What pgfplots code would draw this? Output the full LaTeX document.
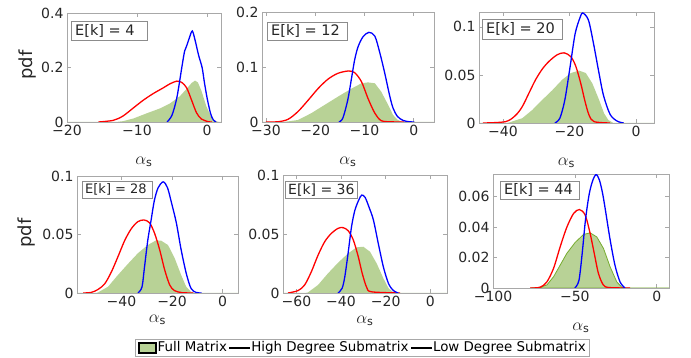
\documentclass[border=0pt]{standalone}
\usepackage{fontspec}
\setmainfont{DejaVu Sans}
\usepackage{pgfplots}
\pgfplotsset{compat=1.18}

\definecolor{axisgray}{HTML}{A8A8A8}
\definecolor{boxgray}{HTML}{8C8C8C}
\definecolor{txtgray}{HTML}{262626}
\definecolor{fillgreen}{HTML}{B8D296}
\definecolor{edgegreen}{HTML}{77AC30}

\tikzset{
  ekbox/.style={draw=boxgray, fill=white, anchor=north west, inner xsep=4pt,
    inner ysep=0pt, text=txtgray, font=\fontsize{14.5}{15}\selectfont},
}

\pgfplotsset{
  panel/.style={
    scale only axis,
    scaled ticks=false,
    axis line style={axisgray, line width=0.6pt},
    tick style={axisgray, line width=0.6pt},
    major tick length=4pt,
    tick align=inside,
    ticklabel style={font=\fontsize{14}{14}\selectfont, text=txtgray},
    ymin=0,
    xlabel={$\alpha_{\mathrm{s}}$},
    xlabel style={at={(axis description cs:0.5,0)}, anchor=center,
                  font=\fontsize{16}{16}\selectfont, text=txtgray},
  },
  full/.style={fill=fillgreen, draw=none},
  high/.style={color=red, line width=1.3pt, smooth, tension=0.5},
  low/.style={color=blue, line width=1.3pt, smooth, tension=0.5},
}

\begin{document}
\begin{tikzpicture}[x=1pt, y=1pt]
\useasboundingbox (0pt,0pt) rectangle (691pt,358pt);

% ---------- E[k] = 4 ----------
\begin{axis}[panel, at={(67pt,236pt)}, anchor=south west, width=154pt, height=109pt,
  xmin=-20, xmax=2, ymax=0.4,
  xtick={-20,-10,0}, xticklabels={−20,−10,0},
  ytick={0,0.2,0.4}, yticklabels={0,0.2,0.4},
  xlabel style={yshift=-40pt}]
\addplot[full] coordinates {(-20,0) (-13,0) (-12,0.003) (-10.5,0.013) (-8.6,0.032) (-6.7,0.05) (-5.3,0.068) (-3.9,0.094) (-2.9,0.122) (-2.2,0.143) (-1.7,0.152) (-1.3,0.145) (-0.8,0.115) (-0.1,0.058) (0.6,0.019) (1.1,0.005) (1.6,0.001) (2,0)} \closedcycle;
\addplot[high] coordinates {(-15.5,0) (-13.4,0.006) (-12,0.022) (-10.5,0.052) (-9.1,0.08) (-7.7,0.104) (-6.2,0.126) (-5.3,0.14) (-4.3,0.15) (-3.6,0.145) (-2.9,0.125) (-2.2,0.08) (-1.5,0.034) (-0.8,0.011) (0.2,0.001) (0.7,0)};
\addplot[low] coordinates {(-5.7,0) (-5,0.025) (-4.3,0.09) (-3.6,0.2) (-3.2,0.26) (-2.9,0.28) (-2.5,0.31) (-2.1,0.334) (-1.7,0.3) (-1.2,0.245) (-0.7,0.2) (-0.4,0.15) (0,0.09) (0.5,0.032) (0.9,0.008) (1.3,0)};
\node[ekbox, minimum height=19pt] at (rel axis cs:0,1) [xshift=4pt, yshift=-8pt] {\makebox[68pt][l]{E[k] = 4}};
\end{axis}

% ---------- E[k] = 12 ----------
\begin{axis}[panel, at={(262pt,236pt)}, anchor=south west, width=172pt, height=110pt,
  xmin=-30.8, xmax=4.1, ymax=0.2,
  xtick={-30,-20,-10,0}, xticklabels={−30,−20,−10,0},
  ytick={0,0.1,0.2}, yticklabels={0,0.1,0.2},
  xlabel style={yshift=-40pt}]
\addplot[full] coordinates {(-30.8,0) (-26.5,0) (-23.5,0.0036) (-20.8,0.016) (-18.1,0.031) (-15.4,0.046) (-12.6,0.061) (-10.6,0.0704) (-9.3,0.072) (-7.9,0.0704) (-6.6,0.055) (-5.2,0.031) (-4.2,0.0127) (-3.3,0.004) (-2.4,0.0005) (-1.5,0) (4.1,0)} \closedcycle;
\addplot[high] coordinates {(-30,0) (-27.5,0.0005) (-25.5,0.005) (-23.5,0.019) (-21.4,0.04) (-19.4,0.061) (-17.4,0.078) (-15.4,0.0885) (-13.3,0.0927) (-12,0.0897) (-10.6,0.073) (-9.3,0.043) (-7.9,0.016) (-6.6,0.0024) (-4.5,0.0003) (-1.9,0)};
\addplot[low] coordinates {(-15.2,0) (-14.4,0.007) (-13.4,0.04) (-12.7,0.076) (-12,0.113) (-11.3,0.137) (-10.3,0.155) (-9.1,0.163) (-7.9,0.156) (-6.9,0.126) (-5.9,0.089) (-4.9,0.048) (-4.2,0.025) (-3.3,0.01) (-2.2,0.003) (-1,0.0005) (0.1,0)};
\node[ekbox, minimum height=18pt] at (rel axis cs:0,1) [xshift=5pt, yshift=-10pt] {\makebox[72pt][l]{E[k] = 12}};
\end{axis}

% ---------- E[k] = 20 ----------
\begin{axis}[panel, at={(479pt,235pt)}, anchor=south west, width=175pt, height=111pt,
  xmin=-47.2, xmax=5.4, ymax=0.1155,
  xtick={-40,-20,0}, xticklabels={−40,−20,0},
  ytick={0,0.05,0.1}, yticklabels={0,0.05,0.1},
  xlabel style={yshift=-40pt}]
\addplot[full] coordinates {(-47.2,0) (-39,0) (-38.2,0.0005) (-34.2,0.005) (-31.2,0.0135) (-28.2,0.024) (-25.2,0.034) (-22.2,0.045) (-19.6,0.052) (-17.1,0.0545) (-15.1,0.052) (-13.1,0.041) (-11.1,0.024) (-9.6,0.010) (-8.3,0.003) (-6.8,0) (5.4,0)} \closedcycle;
\addplot[high] coordinates {(-46,0) (-39.2,0.0014) (-36.2,0.008) (-34.2,0.017) (-32.2,0.031) (-30.2,0.045) (-28.2,0.056) (-26.2,0.064) (-23.7,0.071) (-21.6,0.073) (-19.6,0.069) (-18.1,0.059) (-16.6,0.041) (-15.3,0.022) (-14.1,0.008) (-12.6,0.0014) (-7.8,0)};
\addplot[low] coordinates {(-24.4,0) (-22.9,0.005) (-21.4,0.024) (-19.8,0.059) (-18.3,0.093) (-16.8,0.11) (-16,0.1145) (-14.3,0.107) (-12.8,0.083) (-11.3,0.055) (-9.8,0.029) (-7.8,0.009) (-5.7,0.002) (-3.7,0)};
\node[ekbox, minimum height=20pt] at (rel axis cs:0,1) [xshift=3pt, yshift=-7pt] {\makebox[72pt][l]{E[k] = 20}};
\end{axis}

% ---------- E[k] = 28 ----------
\begin{axis}[panel, at={(77pt,65pt)}, anchor=south west, width=161pt, height=117pt,
  xmin=-57.6, xmax=6.1, ymax=0.1,
  xtick={-40,-20,0}, xticklabels={−40,−20,0},
  ytick={0,0.05,0.1}, yticklabels={0,0.05,0.1},
  xlabel style={yshift=-27pt}]
\addplot[full] coordinates {(-57.6,0) (-50,0) (-49.3,0.0005) (-45.3,0.0054) (-41.4,0.0154) (-37.4,0.025) (-33.5,0.034) (-29.6,0.041) (-26.3,0.045) (-24.3,0.0447) (-21.6,0.041) (-19,0.03) (-16.4,0.0154) (-14.4,0.0054) (-12.5,0.001) (-11,0) (6.1,0)} \closedcycle;
\addplot[high] coordinates {(-55.2,0) (-52,0.0005) (-49.3,0.003) (-46.6,0.008) (-44,0.018) (-41.4,0.031) (-38.7,0.045) (-36.1,0.055) (-33.5,0.061) (-31.1,0.0624) (-28.9,0.06) (-26.9,0.051) (-24.9,0.037) (-22.9,0.0197) (-20.9,0.0068) (-19,0.002) (-16,0.0003) (-11.6,0)};
\addplot[low] coordinates {(-33.5,0) (-31.9,0.005) (-30.9,0.022) (-29.6,0.045) (-28.3,0.062) (-27,0.079) (-25.5,0.09) (-23.5,0.095) (-21.8,0.09) (-20.2,0.077) (-18.3,0.06) (-16.4,0.037) (-14.4,0.017) (-12.5,0.004) (-10.5,0.0005) (-8.3,0)};
\node[ekbox, minimum height=17pt, inner xsep=3pt, font=\fontsize{13}{14}\selectfont] at (rel axis cs:0,1) [xshift=5pt, yshift=-5pt] {\makebox[64pt][l]{E[k] = 28}};
\end{axis}

% ---------- E[k] = 36 (carries the shared legend) ----------
% each key sample is painted twice so that its colour is kept
\begin{axis}[panel, at={(283pt,65pt)}, anchor=south west, width=164pt, height=118pt,
  xmin=-66, xmax=7.5, ymax=0.1,
  xtick={-60,-40,-20,0}, xticklabels={−60,−40,−20,0},
  ytick={0,0.05,0.1}, yticklabels={0,0.05,0.1},
  xlabel style={yshift=-28pt},
  legend columns=3,
  legend style={at={(axis description cs:0.485,-0.462)}, anchor=center,
    draw=axisgray, inner xsep=2pt, inner ysep=1pt,
    font=\fontsize{13.4}{14}\selectfont,
    nodes={inner sep=1.5pt},
    /tikz/every even column/.append style={column sep=1pt}}]
\addlegendimage{legend image code/.code={\fill[fill=edgegreen] (0pt,-5.5pt) rectangle (18pt,5.5pt); \fill[fill=edgegreen] (0pt,-5.5pt) rectangle (18pt,5.5pt); \fill[fill=fillgreen] (1pt,-4.5pt) rectangle (17pt,4.5pt);}}
\addlegendimage{legend image code/.code={\fill[fill=red] (0pt,-0.65pt) rectangle (20pt,0.65pt); \fill[fill=red] (0pt,-0.65pt) rectangle (20pt,0.65pt);}}
\addlegendimage{legend image code/.code={\fill[fill=blue] (0pt,-0.65pt) rectangle (20pt,0.65pt); \fill[fill=blue] (0pt,-0.65pt) rectangle (20pt,0.65pt);}}
\legend{Full Matrix, High Degree Submatrix, Low Degree Submatrix}
\addplot[full] coordinates {(-66,0) (-56,0) (-54.8,0.0005) (-50.3,0.0068) (-45.8,0.0167) (-41.3,0.0257) (-36.8,0.0336) (-33,0.0387) (-30,0.0392) (-27,0.035) (-24,0.025) (-21,0.0124) (-18.7,0.004) (-16.5,0.0005) (-15,0) (7.5,0)} \closedcycle;
\addplot[high] coordinates {(-63.8,0) (-59.3,0.002) (-56.3,0.0068) (-53.3,0.018) (-50.3,0.032) (-47.3,0.0435) (-44.3,0.0506) (-41.3,0.0548) (-39.1,0.0554) (-36.8,0.0528) (-34.5,0.045) (-32.3,0.031) (-30.5,0.0167) (-28.5,0.0048) (-26.3,0.001) (-13.5,0)};
\addplot[low] coordinates {(-41.3,0) (-39.5,0.004) (-38.3,0.0138) (-36.8,0.034) (-35.3,0.056) (-33.8,0.07) (-32,0.079) (-30.7,0.083) (-29.2,0.081) (-27.5,0.073) (-25.5,0.062) (-23.3,0.042) (-21,0.022) (-18.7,0.008) (-16.5,0.002) (-14.3,0)};
\node[ekbox, minimum height=17pt, inner xsep=3pt, font=\fontsize{14}{14}\selectfont] at (rel axis cs:0,1) [xshift=2pt, yshift=-6pt] {\makebox[66pt][l]{E[k] = 36}};
\end{axis}

% ---------- E[k] = 44 ----------
\begin{axis}[panel, at={(493pt,70pt)}, anchor=south west, width=176pt, height=114pt,
  xmin=-100, xmax=7.5, ymax=0.075,
  xtick={-100,-50,0}, xticklabels={−100,−50,0},
  ytick={0,0.02,0.04,0.06}, yticklabels={0,0.02,0.04,0.06},
  xlabel style={yshift=-40pt}]
\addplot[full, draw=edgegreen, line width=0.8pt] coordinates {(-77,0) (-71,0.0005) (-67.1,0.002) (-63,0.0074) (-59,0.015) (-54.9,0.0228) (-49.8,0.030) (-44.7,0.0352) (-40.7,0.0363) (-36.6,0.0336) (-32.5,0.026) (-28.5,0.014) (-24.4,0.004) (-21.3,0.0005) (-19,0) (7.5,0)} \closedcycle;
\addplot[high] coordinates {(-77.3,0) (-71.2,0.0005) (-67.1,0.004) (-63,0.013) (-59,0.027) (-54.9,0.040) (-50.8,0.049) (-47.2,0.0516) (-43.7,0.048) (-40.7,0.036) (-38.2,0.023) (-35.6,0.0096) (-32.6,0.002) (-29,0.0003) (-16.3,0)};
\addplot[low] coordinates {(-50,0) (-47.5,0.005) (-45.5,0.023) (-43.5,0.045) (-41.2,0.062) (-39,0.071) (-37,0.0747) (-35,0.071) (-33.2,0.063) (-31.6,0.053) (-28.5,0.032) (-25.5,0.015) (-22.4,0.004) (-19.4,0)};
\node[ekbox, minimum height=18pt] at (rel axis cs:0,1) [xshift=7pt, yshift=-7pt] {\makebox[71pt][l]{E[k] = 44}};
\end{axis}

% shared y-axis labels
\node[rotate=90, font=\fontsize{18}{18}\selectfont, text=txtgray] at (28pt,293pt) {pdf};
\node[rotate=90, font=\fontsize{18}{18}\selectfont, text=txtgray] at (27pt,125pt) {pdf};
\end{tikzpicture}
\end{document}
